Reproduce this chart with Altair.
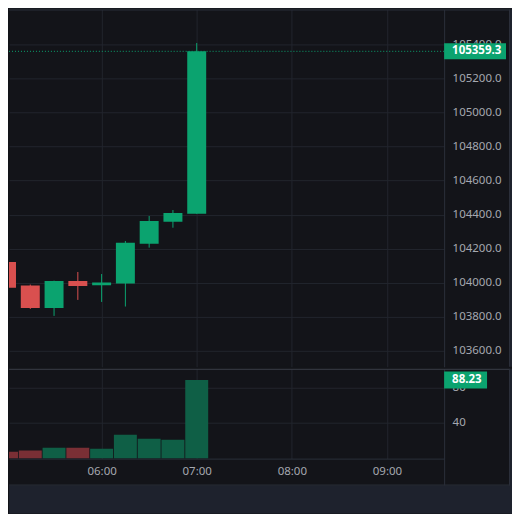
import altair as alt
import pandas as pd

# ---- data (15-minute candles) ----
times = ["05:00", "05:15", "05:30", "05:45", "06:00", "06:15", "06:30", "06:45", "07:00"]
opens = [104122, 103983, 103852, 104010, 103985, 103995, 104229, 104358, 104405]
highs = [104128, 103989, 104012, 104063, 104051, 104245, 104392, 104427, 105408]
lows = [103903, 103846, 103805, 103899, 103887, 103860, 104206, 104323, 104405]
closes = [103971, 103852, 104010, 103981, 104001, 104235, 104362, 104409, 105359.3]
volumes = [7.8, 9.0, 12.3, 12.3, 11.2, 26.9, 22.4, 21.3, 88.23]

hour_ticks = [360, 420, 480, 540]          # 06:00 .. 09:00 (minutes)
price_ticks = [103600, 103800, 104000, 104200, 104400, 104600, 104800, 105000, 105200, 105400]
volume_ticks = [40, 80]

# ---- styling ----
UP, DOWN = "#0ba36f", "#d9504f"
VUP, VDOWN = "#0f5f46", "#7a2f35"
BG, PAGE = "#131419", "#1e222d"
GRID, BORDER, SEP = "#22252d", "#2b2f3a", "#3a3e48"
LABEL = "#a5a8b0"
FONT = "Noto Sans"

W, HP, HV = 436, 358, 90
TOTAL = 504
x_dom = [301.57, 576.1]
price_dom = [103506, 105605]
vol_dom = [0, 100.8]
ppx_price = (price_dom[1] - price_dom[0]) / HP
ppx_vol = (vol_dom[1] - vol_dom[0]) / HV

minutes = [int(t[:2]) * 60 + int(t[3:]) for t in times]
df = pd.DataFrame({"time": times, "t": minutes, "open": opens, "high": highs,
                   "low": lows, "close": closes, "volume": volumes})
df["dir"] = ["up" if c >= o else "down" for o, c in zip(opens, closes)]

last = pd.DataFrame({"close": [closes[-1]], "volume": [volumes[-1]]})
last["plo"] = last["close"] - 8 * ppx_price
last["phi"] = last["close"] + 8 * ppx_price
last["vlo"] = last["volume"] - 8.5 * ppx_vol
last["vhi"] = last["volume"] + 8.5 * ppx_vol

label_expr = "(floor(datum.value/60) < 10 ? '0' : '') + floor(datum.value/60) + ':00'"
xscale = alt.Scale(domain=x_dom, nice=False, zero=False, padding=0)

x_price = alt.X("t:Q", scale=xscale,
                axis=alt.Axis(values=hour_ticks, grid=True, labels=False, ticks=False,
                              domain=False, title=None))
x_vol = alt.X("t:Q", scale=xscale,
              axis=alt.Axis(values=hour_ticks, grid=True, labels=True, ticks=False, domain=True,
                            labelExpr=label_expr, labelPadding=7, labelFlush=False, title=None))

yscale = alt.Scale(domain=price_dom, nice=False, zero=False, padding=0)
yaxis = alt.Axis(orient="right", values=price_ticks, format=".1f", grid=True, ticks=False,
                 domain=True, labelPadding=8, labelFlush=False, labelOverlap=False, title=None)
vscale = alt.Scale(domain=vol_dom, nice=False, zero=False, padding=0)
vaxis = alt.Axis(orient="right", values=volume_ticks, grid=True, ticks=False, domain=True,
                 labelPadding=8, labelFlush=False, labelOverlap=False, title=None)


def PY(field):
    return alt.Y(field, scale=yscale, axis=yaxis)


def VY(field):
    return alt.Y(field, scale=vscale, axis=vaxis)


cscale = alt.Scale(domain=["up", "down"], range=[UP, DOWN])
vcscale = alt.Scale(domain=["up", "down"], range=[VUP, VDOWN])

base = alt.Chart(df)

wicks = base.mark_rule(strokeWidth=1, clip=True).encode(
    x=x_price, y=PY("low:Q"), y2="high:Q",
    color=alt.Color("dir:N", scale=cscale, legend=None))
bodies = base.mark_bar(size=19, clip=True).encode(
    x=x_price, y=PY("open:Q"), y2="close:Q",
    color=alt.Color("dir:N", scale=cscale, legend=None))

lastc = alt.Chart(last)
pline = lastc.mark_rule(color=UP, strokeDash=[1, 2], strokeWidth=1).encode(
    y=PY("close:Q"))
plabel = lastc.mark_rect(color=UP).encode(
    x=alt.value(W), x2=alt.value(W + 62), y=PY("plo:Q"), y2="phi:Q")
ptext = lastc.mark_text(align="left", baseline="middle", font=FONT, fontSize=11.5,
                        fontWeight="bold", color="white").encode(
    x=alt.value(W + 8), y=PY("close:Q"),
    text=alt.Text("close:Q", format=".1f"))

# frame decorations (price pane)
deco = alt.Chart(pd.DataFrame({"k": [0]}))
p_top_strip = deco.mark_rect(color=PAGE).encode(
    x=alt.value(0), x2=alt.value(TOTAL), y=alt.value(-1), y2=alt.value(0))
p_right_strip = deco.mark_rect(color=PAGE).encode(
    x=alt.value(502), x2=alt.value(TOTAL), y=alt.value(0), y2=alt.value(HP))
p_top = deco.mark_rule(color=BORDER).encode(
    x=alt.value(0), x2=alt.value(502), y=alt.value(0.5))
p_right = deco.mark_rule(color=BORDER).encode(
    x=alt.value(501.5), y=alt.value(0), y2=alt.value(HP))

price = alt.layer(wicks, bodies, pline, plabel, ptext,
                  p_top_strip, p_right_strip, p_top, p_right).properties(width=W, height=HP)

# volume pane
vbars = base.mark_bar(size=23, clip=True).encode(
    x=x_vol, y=VY("volume:Q"),
    color=alt.Color("dir:N", scale=vcscale, legend=None))
vlabel = lastc.mark_rect(color=UP).encode(
    x=alt.value(W), x2=alt.value(W + 43), y=VY("vlo:Q"), y2="vhi:Q")
vtext = lastc.mark_text(align="left", baseline="middle", font=FONT, fontSize=11.5,
                        fontWeight="bold", color="white").encode(
    x=alt.value(W + 8), y=VY("volume:Q"),
    text=alt.Text("volume:Q", format=".2f"))

VB = TOTAL - 1 - HP  # bottom of the volume panel group
v_sep = deco.mark_rule(color=SEP).encode(
    x=alt.value(0), x2=alt.value(502), y=alt.value(0.5))
v_axis_ext = deco.mark_rule(color=BORDER).encode(
    x=alt.value(W + 0.5), y=alt.value(HV), y2=alt.value(117))
v_right = deco.mark_rule(color=BORDER).encode(
    x=alt.value(501.5), y=alt.value(0), y2=alt.value(117))
v_bottom = deco.mark_rule(color=BORDER).encode(
    x=alt.value(0), x2=alt.value(502), y=alt.value(116.5))
v_right_strip = deco.mark_rect(color=PAGE).encode(
    x=alt.value(502), x2=alt.value(TOTAL), y=alt.value(0), y2=alt.value(VB))
v_bottom_strip = deco.mark_rect(color=PAGE).encode(
    x=alt.value(0), x2=alt.value(TOTAL), y=alt.value(117), y2=alt.value(VB))

volume = alt.layer(vbars, vlabel, vtext, v_sep, v_axis_ext,
                   v_right_strip, v_bottom_strip, v_right, v_bottom).properties(width=W, height=HV)

chart = alt.vconcat(price, volume, spacing=0).resolve_scale(
    y="independent", color="independent"
).properties(
    padding={"left": 0, "top": 0, "right": 0, "bottom": 0},
    background=BG,
).configure_view(stroke=None, fill=BG).configure_axis(
    labelFont=FONT, labelFontSize=11.5, labelColor=LABEL,
    gridColor=GRID, gridWidth=1, domainColor=BORDER, domainWidth=1,
)

chart.save("out.html", embed_options={"renderer": "svg", "actions": False})
